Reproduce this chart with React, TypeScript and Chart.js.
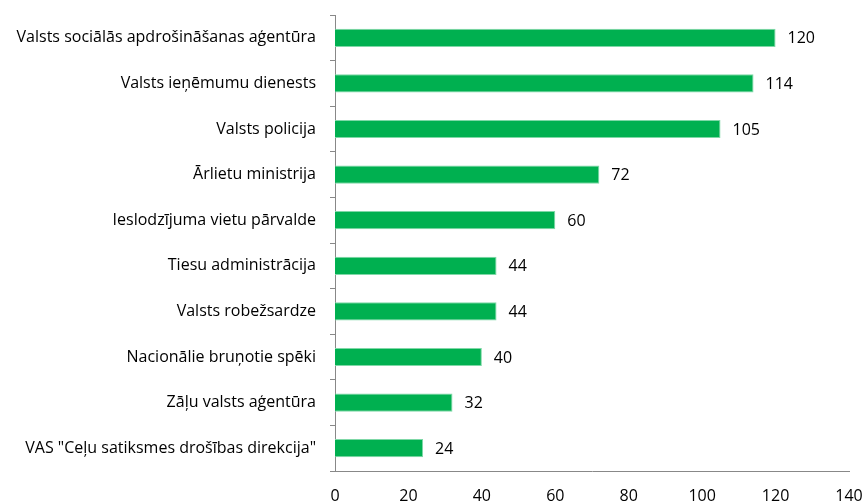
import React, { useEffect, useRef } from "react";
import { Chart, registerables } from "chart.js";

Chart.register(...registerables);

const categories: string[] = [
  "Valsts sociālās apdrošināšanas aģentūra",
  "Valsts ieņēmumu dienests",
  "Valsts policija",
  "Ārlietu ministrija",
  "Ieslodzījuma vietu pārvalde",
  "Tiesu administrācija",
  "Valsts robežsardze",
  "Nacionālie bruņotie spēki",
  "Zāļu valsts aģentūra",
  "VAS \"Ceļu satiksmes drošības direkcija\"",
];

const values: number[] = [120, 114, 105, 72, 60, 44, 44, 40, 32, 24];

const xMin = 0;
const xMax = 140;
const xStep = 20;

const FONT = "'Open Sans', sans-serif";

const valueLabels = {
  id: "valueLabels",
  afterDatasetsDraw(chart: any) {
    const ctx = chart.ctx;
    const meta = chart.getDatasetMeta(0);
    ctx.save();
    ctx.font = `16px ${FONT}`;
    ctx.fillStyle = "#000000";
    ctx.textAlign = "left";
    ctx.textBaseline = "middle";
    meta.data.forEach((bar: any, i: number) => {
      ctx.fillText(String(values[i]), bar.x + 12, bar.y + 1);
    });
    ctx.restore();
  },
};

export default function App() {
  const ref = useRef<HTMLCanvasElement | null>(null);

  useEffect(() => {
    if (!ref.current) return;
    const chart = new Chart(ref.current, {
      type: "bar",
      data: {
        labels: categories,
        datasets: [
          {
            data: values,
            backgroundColor: "#00B050",
            borderColor: "#7FD8A7",
            borderWidth: 1,
            categoryPercentage: 1,
            barPercentage: 0.4,
          },
        ],
      },
      options: {
        indexAxis: "y",
        responsive: false,
        animation: false,
        layout: { padding: { top: 15, right: 15, left: 0, bottom: 0 } },
        plugins: {
          legend: { display: false },
          tooltip: { enabled: false },
        },
        scales: {
          x: {
            min: xMin,
            max: xMax,
            ticks: {
              stepSize: xStep,
              color: "#000000",
              font: { family: FONT, size: 16 },
              padding: 16,
              maxRotation: 0,
            },
            grid: { display: false, drawTicks: false },
            border: { display: true, color: "#888888", width: 1 },
            afterFit(scale: any) {
              scale.height = 32;
              scale.paddingLeft = 0;
              scale.paddingRight = 0;
            },
          },
          y: {
            ticks: {
              color: "#000000",
              font: { family: FONT, size: 16 },
              padding: 14,
              autoSkip: false,
            },
            grid: {
              display: true,
              drawOnChartArea: false,
              drawTicks: true,
              tickLength: 5,
              offset: true,
              color: "#888888",
            },
            border: { display: true, color: "#888888", width: 1 },
            afterFit(scale: any) {
              scale.width = 335;
              scale.paddingTop = 0;
              scale.paddingBottom = 0;
            },
          },
        },
      },
      plugins: [valueLabels],
    });
    return () => chart.destroy();
  }, []);

  return (
    <div style={{ position: "fixed", left: 0, top: 0, width: 864, height: 503, background: "#ffffff" }}>
      <canvas ref={ref} width={864} height={503} />
    </div>
  );
}
